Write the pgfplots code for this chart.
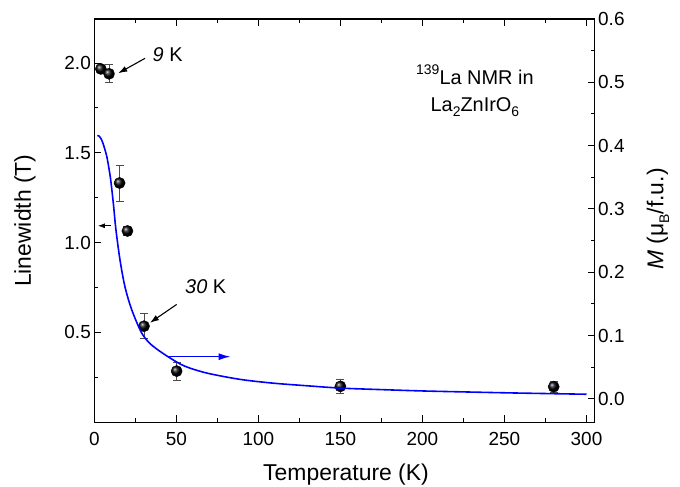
\documentclass[border=0pt]{standalone}
\usepackage{fontspec}
\setmainfont{Liberation Sans}
\usepackage{pgfplots}
\usepackage{pgfplotstable}
\pgfplotsset{compat=1.18}
\usetikzlibrary{arrows.meta}

\pgfplotstableread{
T LW E
4 1.967 0.02
9 1.940 0.05
15.4 1.332 0.10
20.2 1.065 0.025
30.3 0.535 0.07
50.2 0.285 0.05
150 0.200 0.038
280 0.198 0.03
}\lwdata

\pgfplotstableread{
T M
1.8 0.416
3.0 0.415
4.5 0.409
6.0 0.398
7.6 0.383
8.8 0.366
10.0 0.346
11.6 0.309
13.2 0.267
15.7 0.219
18.7 0.177
22.8 0.141
28.5 0.106
33 0.090
38 0.079
46 0.065
55 0.052
68.5 0.041
88.8 0.031
109 0.025
129 0.021
150 0.0172
175 0.0148
200 0.0127
225 0.0112
250 0.0098
275 0.0086
300 0.0075
}\mdata

\newcommand{\subsc}[1]{\raisebox{-0.25em}{\fontsize{14}{14}\selectfont #1}}
\newcommand{\supsc}[1]{\raisebox{0.5em}{\fontsize{14}{14}\selectfont #1}}

\begin{document}
\begin{tikzpicture}
\pgfplotsset{
  common/.style={
    width=500.4bp, height=403.3bp, scale only axis,
    at={(0,0)}, anchor=south west,
    xmin=0, xmax=305,
    tick align=inside,
    major tick length=7bp, minor tick length=4bp,
    every tick/.style={black, line width=1pt},
    axis line style={line width=1.2pt},
    tick label style={font=\fontsize{19}{22}\selectfont},
    label style={font=\fontsize{23}{26}\selectfont},
    /pgf/number format/assume math mode=true,
    clip=false,
  }
}
\begin{axis}[common,
  axis y line*=left,
  ymin=0, ymax=2.245,
  xtick={0,50,100,150,200,250,300}, minor xtick={25,75,125,175,225,275},
  ytick={0.5,1,1.5,2}, minor ytick={0.25,0.75,1.25,1.75},
  yticklabel style={/pgf/number format/.cd, fixed, fixed zerofill, precision=1},
  xticklabel style={yshift=-6bp},
  xlabel={Temperature (K)}, ylabel={Linewidth (T)},
  xlabel style={at={(axis description cs:0.503,-0.1307)}, anchor=center},
  ylabel style={at={(axis description cs:-0.1385,0.5)}, anchor=center},
]
\addplot[only marks, mark=ball, mark size=5.6bp, mark options={ball color=black},
  error bars/.cd, y dir=both, y explicit,
  error bar style={gray!60!black, line width=0.8pt},
  error mark=|,
  error mark options={gray!60!black, line width=0.8pt, mark size=4bp}]
  table[x=T, y=LW, y error=E] {\lwdata};

\node[font=\fontsize{20}{24}\selectfont] at (axis cs:44.7,2.044) {\textit{9} K};
\node[font=\fontsize{20}{24}\selectfont] at (axis cs:67.9,0.757) {\textit{30} K};
\draw[-{Latex[length=9bp,width=6bp]}, line width=1.1pt] (axis cs:30.9,2.026) -- (axis cs:14.6,1.943);
\draw[-{Latex[length=9bp,width=6bp]}, line width=1.1pt] (axis cs:50.2,0.656) -- (axis cs:33.9,0.554);
\draw[-{Latex[length=7bp,width=5bp]}, line width=0.8pt] (axis cs:10,1.094) -- (axis cs:2.25,1.094);
\node[align=center, font=\fontsize{20}{27}\selectfont] at (axis cs:232,1.844)
  {\supsc{139}La NMR in\\ La\subsc{2}ZnIrO\subsc{6}};
\end{axis}

\begin{axis}[common,
  axis y line*=right, hide x axis,
  ymin=-0.0368, ymax=0.6,
  ytick={0,0.1,0.2,0.3,0.4,0.5,0.6}, minor ytick={0.05,0.15,0.25,0.35,0.45,0.55},
  yticklabel style={/pgf/number format/.cd, fixed, fixed zerofill, precision=1},
  ylabel={\textit{M} (μ\subsc{B}/f.u.)},
  ylabel style={at={(axis description cs:1.1265,0.504)}, anchor=center},
]
\addplot[blue, line width=1.6pt, no marks, smooth, tension=0.5] table[x=T, y=M] {\mdata};
\draw[blue, line width=1.6pt, -{Latex[length=12bp,width=7bp]}] (axis cs:45.7,0.0668) -- (axis cs:83.1,0.0668);
\end{axis}
\pgfresetboundingbox
\useasboundingbox (-94.3bp,-64.7bp) rectangle (585.7bp,422.3bp);
\end{tikzpicture}
\end{document}
